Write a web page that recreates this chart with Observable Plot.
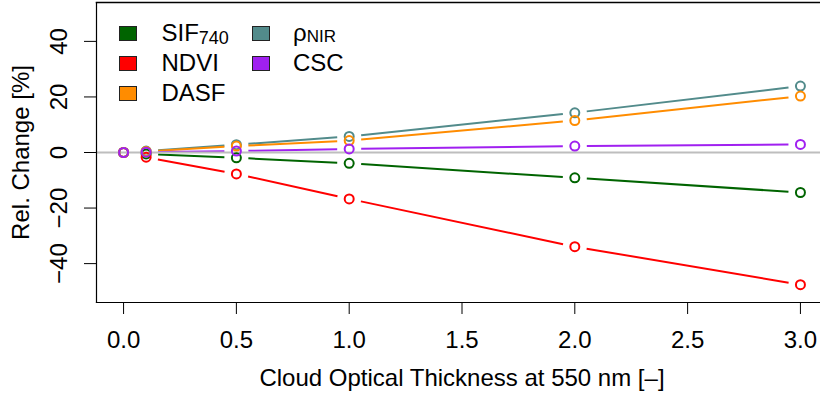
<!DOCTYPE html>
<html>
<head>
<meta charset="utf-8">
<script src="https://cdn.jsdelivr.net/npm/d3@7"></script>
<script src="https://cdn.jsdelivr.net/npm/@observablehq/plot@0.6"></script>
<style>
  html, body { margin: 0; padding: 0; background: #fff; }
  body { font-family: "Liberation Sans", Arial, sans-serif; }
  #wrap { position: relative; width: 820px; height: 394px; overflow: hidden; }
  #legend { position: absolute; left: 0; top: 0; font-size: 24px; color: #000; }
  .item { position: absolute; height: 30px; line-height: 30px; white-space: nowrap; }
  .sw { position: absolute; width: 18px; height: 15px; top: 8px; box-sizing: border-box; border: 1px solid #222; }
  .lab { position: absolute; top: 0; }
  .s1 { font-size: 18px; position: relative; top: 3px; }
  .s2 { font-size: 17px; position: relative; top: 1px; }
</style>
</head>
<body>
<div id="wrap"><div id="legend"></div></div>
<script>
// ---- data ----
const cot = [0, 0.1, 0.5, 1, 2, 3];
const sif740 = [0, -0.5, -1.9, -3.9, -9.1, -14.4];
const ndvi = [0, -1.7, -7.7, -16.7, -33.9, -47.6];
const dasf = [0, 0.4, 2.3, 4.3, 11.5, 20.3];
const rhoNir = [0, 0.5, 2.8, 5.8, 14.3, 23.9];
const csc = [0, 0.1, 0.5, 1.3, 2.3, 2.9];

const seriesNames = ["SIF740", "NDVI", "ρNIR", "DASF", "CSC"];
const seriesColors = ["#006400", "#FF0000", "#528B8B", "#FF8C00", "#A020F0"];
const seriesValues = [sif740, ndvi, rhoNir, dasf, csc];

const xTicks = [0, 0.5, 1, 1.5, 2, 2.5, 3];
const yTicks = [-40, -20, 0, 20, 40];

// legend entries (column-major as in reference)
const legendItems = [
  {html: 'SIF<span class="s1">740</span>', color: "#006400", col: 0, row: 0},
  {html: 'NDVI', color: "#FF0000", col: 0, row: 1},
  {html: 'DASF', color: "#FF8C00", col: 0, row: 2},
  {html: 'ρ<span class="s2">NIR</span>', color: "#528B8B", col: 1, row: 0},
  {html: 'CSC', color: "#A020F0", col: 1, row: 1}
];

// ---- build tables ----
const points = [];
const segments = [];
seriesNames.forEach((name, i) => {
  const vals = seriesValues[i];
  cot.forEach((x, j) => {
    points.push({series: name, x, y: vals[j], color: seriesColors[i]});
    if (j > 0) segments.push({series: name, x1: cot[j - 1], y1: vals[j - 1], x2: x, y2: vals[j], color: seriesColors[i]});
  });
});

const fmt = d3.format(".1f");
const FS = 24;

const chart = Plot.plot({
  width: 820,
  height: 394,
  marginLeft: 96,
  marginRight: 0,
  marginTop: 2,
  marginBottom: 92,
  style: {fontFamily: "Liberation Sans, Arial, sans-serif", fontSize: FS + "px", background: "#fff", color: "#000"},
  x: {domain: [-0.12, 3.12], range: [96, 827], axis: null},
  y: {domain: [-54, 54], axis: null},
  marks: [
    // connecting segments with gaps around the points (R type = "b")
    Plot.arrow(segments, {x1: "x1", y1: "y1", x2: "x2", y2: "y2", stroke: "color", strokeWidth: 2, headLength: 0, inset: 12, strokeLinecap: "butt"}),
    Plot.ruleY([0], {stroke: "#bebebe", strokeWidth: 2}),
    Plot.dot(points, {x: "x", y: "y", stroke: "color", r: 4.5, strokeWidth: 2, fill: "none"}),
    // frame (left, top, bottom)
    Plot.frame({anchor: "left", stroke: "#000", strokeWidth: 1.2}),
    Plot.frame({anchor: "top", stroke: "#000", strokeWidth: 1.5}),
    Plot.frame({anchor: "bottom", stroke: "#000", strokeWidth: 1.2}),
    // axes
    Plot.axisX({ticks: xTicks, tickSize: 12, tickPadding: 16, tickFormat: fmt, fontSize: FS, label: null}),
    Plot.axisY({ticks: yTicks, tickSize: 12, tickFormat: () => "", label: null}),
    Plot.text(yTicks, {y: d => d, text: d => String(d).replace("-", "\u2212"), frameAnchor: "left", dx: -37.5, rotate: -90, textAnchor: "middle", lineAnchor: "middle", fontSize: FS}),
    // axis titles
    Plot.text(["Rel. Change [%]"], {frameAnchor: "left", dx: -75, rotate: -90, textAnchor: "middle", lineAnchor: "middle", fontSize: FS}),
    Plot.text(["Cloud Optical Thickness at 550 nm [\u2013]"], {frameAnchor: "bottom", dx: 3.5, dy: 75.5, textAnchor: "middle", lineAnchor: "middle", fontSize: FS})
  ]
});

const wrap = document.getElementById("wrap");
wrap.insertBefore(chart, wrap.firstChild);

// legend overlay
const legend = document.getElementById("legend");
const colX = [{sw: 119, lab: 161.5}, {sw: 251.5, lab: 293}];
legendItems.forEach(it => {
  const div = document.createElement("div");
  div.className = "item";
  div.style.top = (18 + 30 * it.row) + "px";
  div.style.left = "0px";
  const sw = document.createElement("div");
  sw.className = "sw";
  sw.style.left = colX[it.col].sw + "px";
  sw.style.background = it.color;
  const lab = document.createElement("div");
  lab.className = "lab";
  lab.style.left = colX[it.col].lab + "px";
  lab.innerHTML = it.html;
  div.appendChild(sw);
  div.appendChild(lab);
  legend.appendChild(div);
});
</script>
</body>
</html>
